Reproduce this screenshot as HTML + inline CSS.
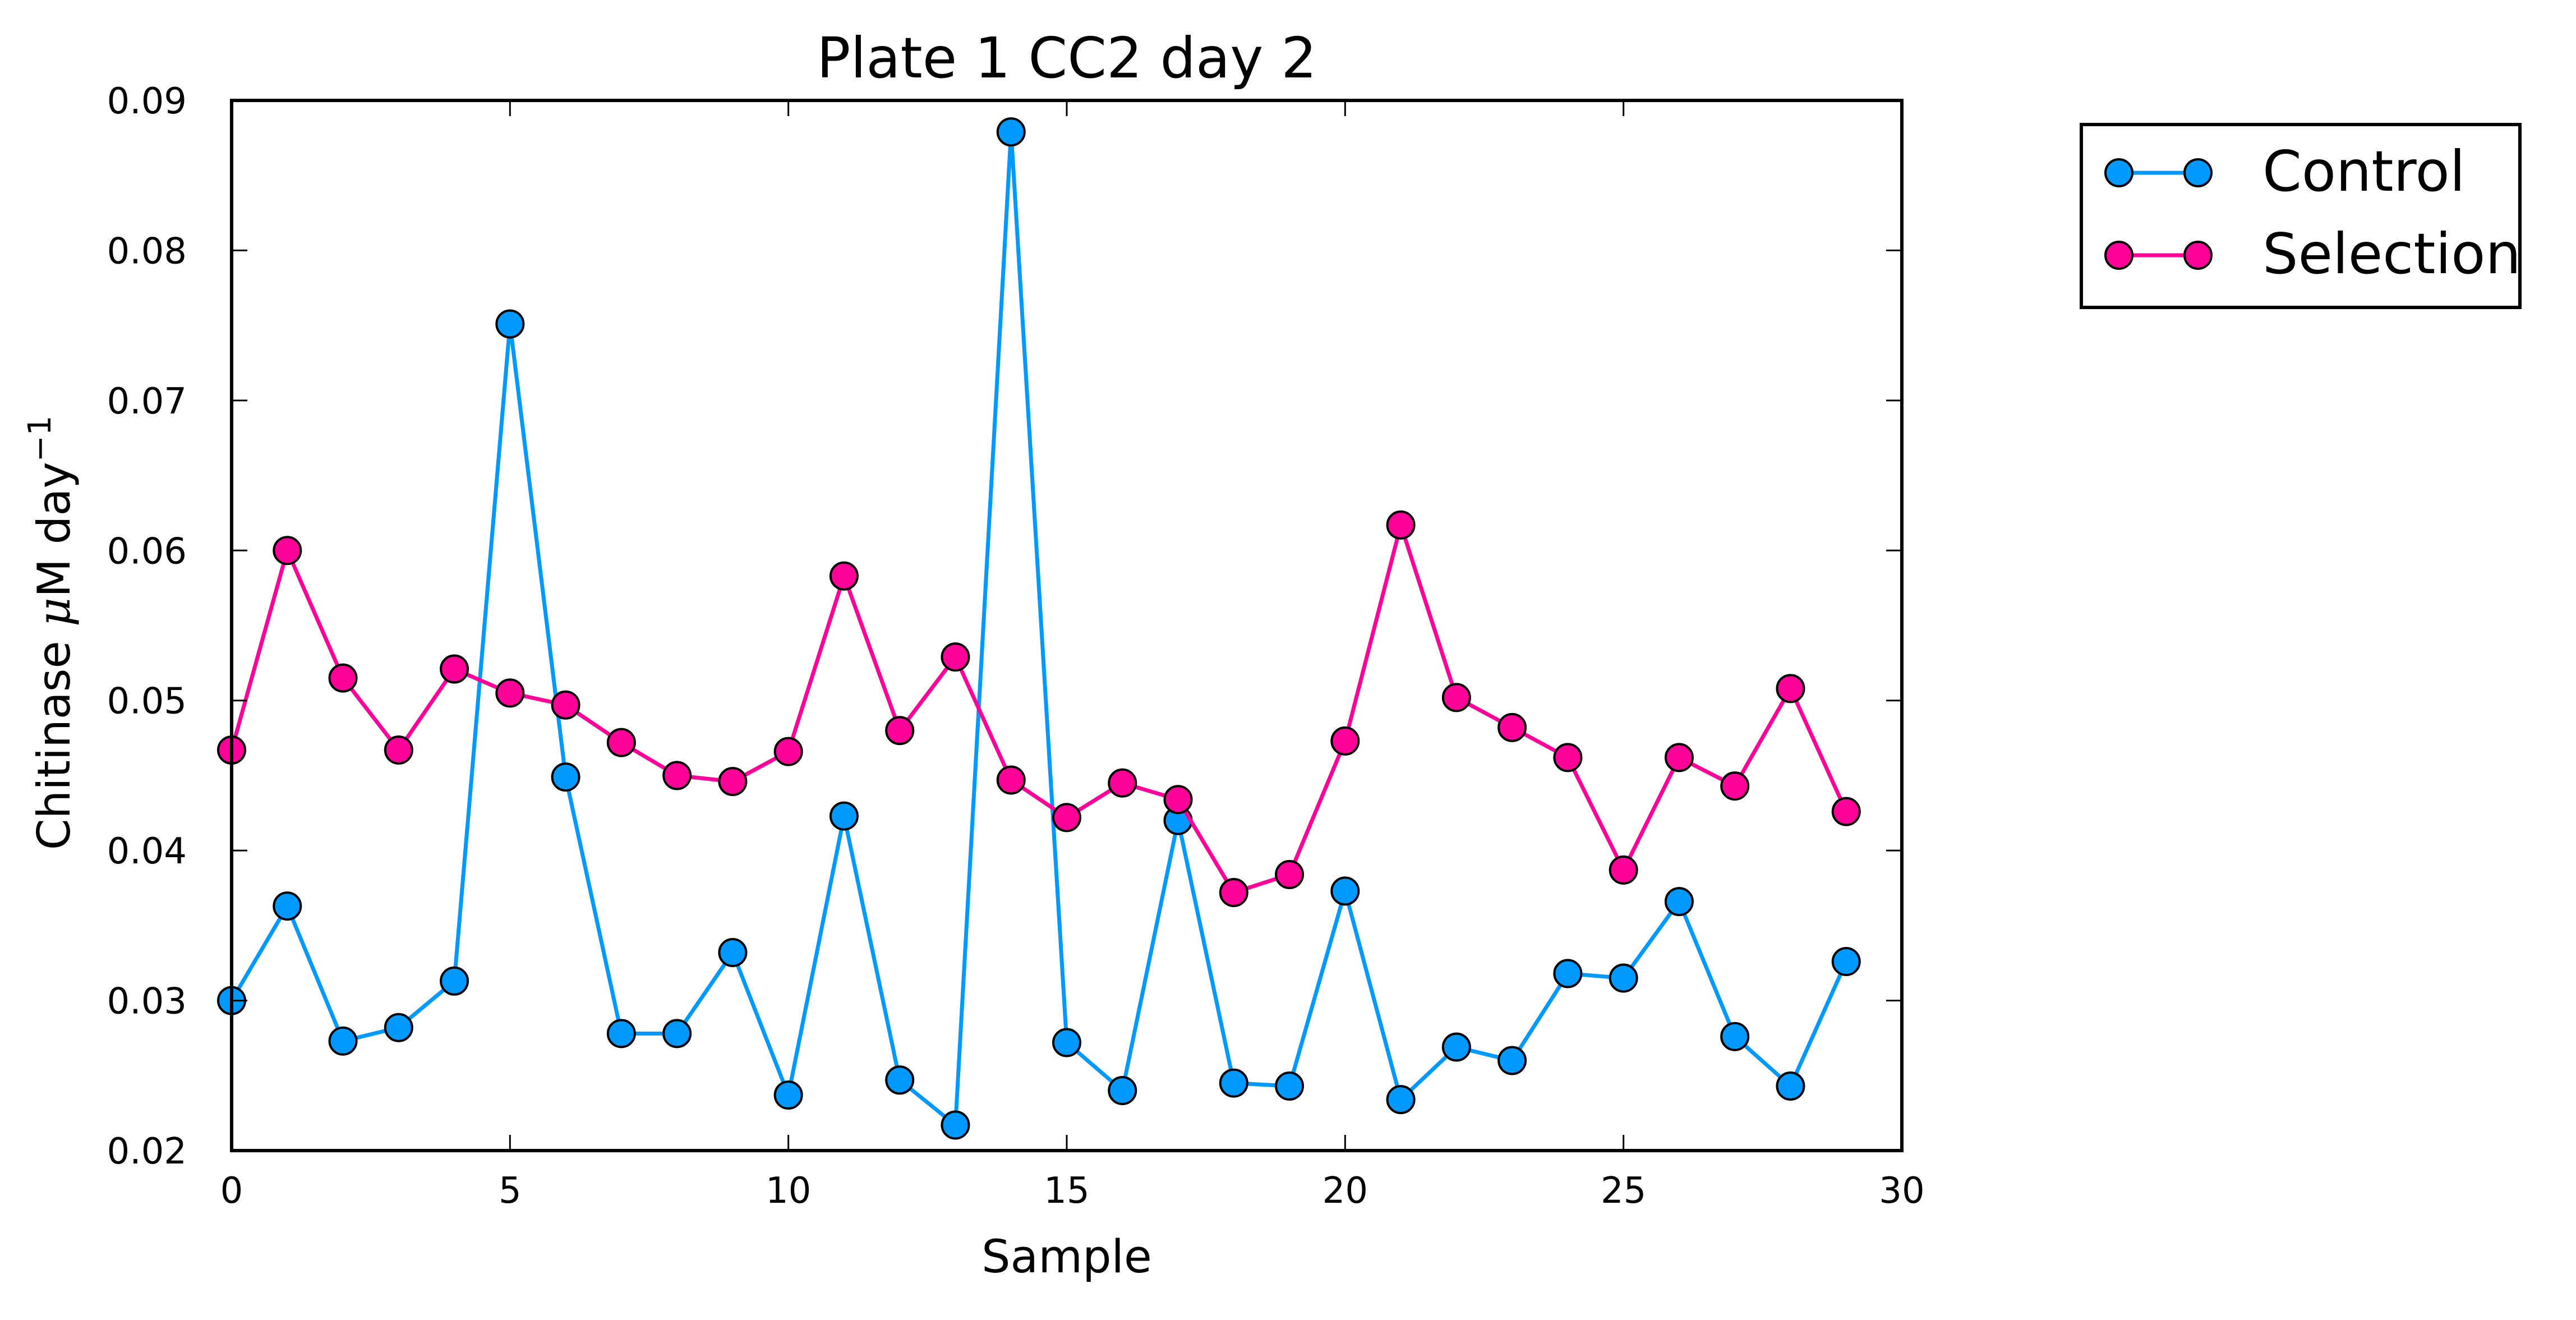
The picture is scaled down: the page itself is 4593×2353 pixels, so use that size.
<!DOCTYPE html>
<html><head><meta charset="utf-8"><style>
html,body{margin:0;padding:0;background:#fff;}
svg{display:block;font-family:"DejaVu Sans","Liberation Sans",sans-serif;}
</style></head><body>
<svg id="chart" width="4593" height="2353" viewBox="0 0 4593 2353" xmlns="http://www.w3.org/2000/svg">
<rect x="0" y="0" width="4593" height="2353" fill="#fff"/>
<text x="1902" y="138" font-size="100" text-anchor="middle">Plate 1 CC2 day 2</text>
<text x="1902" y="2268" font-size="81" text-anchor="middle">Sample</text>
<text transform="translate(124,1128) rotate(-90)" font-size="80" text-anchor="middle">Chitinase <tspan font-style="italic" font-family="'DejaVu Serif',serif">μ</tspan>M day<tspan dy="-34" font-size="56">−1</tspan></text>
<g id="series"></g>
<g id="axes"></g>
<g>
<rect x="3711" y="222" width="782" height="326" fill="#fff" stroke="#000" stroke-width="6"/>
<line x1="3778" y1="308" x2="3919" y2="308" stroke="#0099ff" stroke-width="7"/>
<ellipse cx="3778" cy="308" rx="24" ry="24" fill="#0099ff" stroke="#000" stroke-width="4"/>
<ellipse cx="3919" cy="308" rx="24" ry="24" fill="#0099ff" stroke="#000" stroke-width="4"/>
<text x="4034" y="340" font-size="100">Control</text>
<line x1="3778" y1="455" x2="3919" y2="455" stroke="#ff0099" stroke-width="7"/>
<ellipse cx="3778" cy="455" rx="24" ry="24" fill="#ff0099" stroke="#000" stroke-width="4"/>
<ellipse cx="3919" cy="455" rx="24" ry="24" fill="#ff0099" stroke="#000" stroke-width="4"/>
<text x="4034" y="487" font-size="100">Selection</text>
</g>
</svg>
<script>
const samples = [0,1,2,3,4,5,6,7,8,9,10,11,12,13,14,15,16,17,18,19,20,21,22,23,24,25,26,27,28,29];
const controlValues = [0.0300,0.0363,0.0273,0.0282,0.0313,0.0751,0.0449,0.0278,0.0278,0.0332,0.0237,0.0423,0.0247,0.0217,0.0879,0.0272,0.0240,0.0420,0.0245,0.0243,0.0373,0.0234,0.0269,0.0260,0.0318,0.0315,0.0366,0.0276,0.0243,0.0326];
const selectionValues = [0.0467,0.0600,0.0515,0.0467,0.0521,0.0505,0.0497,0.0472,0.0450,0.0446,0.0466,0.0583,0.0480,0.0529,0.0447,0.0422,0.0445,0.0434,0.0372,0.0384,0.0473,0.0617,0.0502,0.0482,0.0462,0.0387,0.0462,0.0443,0.0508,0.0426];
const xTicks = [0,5,10,15,20,25,30];
const yTicks = [0.02,0.03,0.04,0.05,0.06,0.07,0.08,0.09];
const yTickLabels = ["0.02","0.03","0.04","0.05","0.06","0.07","0.08","0.09"];

const NS = "http://www.w3.org/2000/svg";
const L = 413, R = 3391, T = 179, B = 2051;
const xMin = 0, xMax = 30, yMin = 0.02, yMax = 0.09;
function xs(v){ return L + (v - xMin) / (xMax - xMin) * (R - L); }
function ys(v){ return B - (v - yMin) / (yMax - yMin) * (B - T); }
function mk(tag, attrs, parent){ const e = document.createElementNS(NS, tag); for (const k in attrs) e.setAttribute(k, attrs[k]); parent.appendChild(e); return e; }

const series = document.getElementById('series');
function drawSeries(vals, color, name){
  const g = mk('g', {}, series);
  
  
  const pts = samples.map((s, i) => xs(s) + ',' + ys(vals[i])).join(' ');
  const line = mk('polyline', {points: pts, fill: 'none', stroke: color, 'stroke-width': 7, 'stroke-linejoin': 'round'}, g);
  
  
  samples.forEach((s, i) => {
    const c = mk('circle', {cx: xs(s), cy: ys(vals[i]), r: 24, fill: color, stroke: '#000', 'stroke-width': 4}, g);
    
    
  });
}
drawSeries(controlValues, '#0099ff', 'control');
drawSeries(selectionValues, '#ff0099', 'selection');

const axes = document.getElementById('axes');
xTicks.forEach(t => {
  const x = xs(t);
  mk('line', {x1: x, y1: B, x2: x, y2: B - 28, stroke: '#000', 'stroke-width': 3}, axes);
  mk('line', {x1: x, y1: T, x2: x, y2: T + 28, stroke: '#000', 'stroke-width': 3}, axes);
  const tx = mk('text', {x: x, y: 2144, 'font-size': 64, 'text-anchor': 'middle'}, axes);
  tx.textContent = String(t);
  
  
});
yTicks.forEach((t, i) => {
  const y = ys(t);
  mk('line', {x1: L, y1: y, x2: L + 28, y2: y, stroke: '#000', 'stroke-width': 3}, axes);
  mk('line', {x1: R, y1: y, x2: R - 28, y2: y, stroke: '#000', 'stroke-width': 3}, axes);
  const tx = mk('text', {x: 333, y: y + 23, 'font-size': 64, 'text-anchor': 'end'}, axes);
  tx.textContent = yTickLabels[i];
  
  
});
const frame = mk('rect', {x: L, y: T, width: R - L, height: B - T, fill: 'none', stroke: '#000', 'stroke-width': 6}, axes);


</script>
</body></html>
